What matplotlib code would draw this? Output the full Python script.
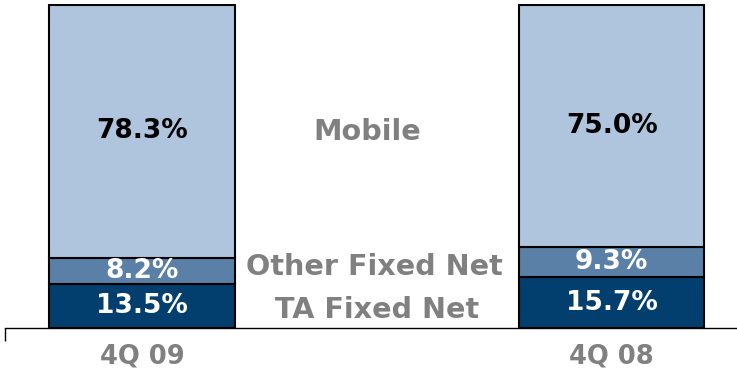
import matplotlib
matplotlib.use("Agg")
import matplotlib.pyplot as plt
import numpy as np

# data (percent share)
periods = ['4Q 09', '4Q 08']
ta_fixed = [13.5, 15.7]
other_fixed = [8.2, 9.3]
mobile = [78.3, 75.0]
segment_names = ['TA Fixed Net', 'Other Fixed Net', 'Mobile']

colors = ['#023f6e', '#5b80a8', '#aec5dd']
label_colors = ['white', 'white', 'black']
gray = '#808080'

fig = plt.figure(figsize=(7.37, 3.69), dpi=100)
ax = fig.add_axes([5/737, 41/369, 732/737, 324/369])

x = np.arange(len(periods))
width = 0.395
bottom = np.zeros(len(periods))
for vals, col, lc in zip([ta_fixed, other_fixed, mobile], colors, label_colors):
    vals = np.array(vals)
    ax.bar(x, vals, width, bottom=bottom, color=col, edgecolor='black',
           linewidth=1.5)
    for xi, b, v in zip(x, bottom, vals):
        ax.text(xi, b + v/2, '%.1f%%' % v, ha='center', va='center',
                color=lc, fontsize=19, fontweight='bold')
    bottom += vals

# segment names between the bars
name_pos = [(0.50, 5.6), (0.495, 18.9), (0.48, 60.7)]
for name, (nx, ny) in zip(segment_names, name_pos):
    ax.text(nx, ny, name, ha='center', va='center', color=gray,
            fontsize=20.6, fontweight='bold')

ax.set_xlim(-0.292, 1.267)
ax.set_ylim(0, 100.3)
ax.set_xticks(x)
ax.set_xticklabels(periods, color=gray, fontsize=18.5, fontweight='bold')
ax.tick_params(axis='x', which='major', length=0, pad=11)
ax.set_xticks([-0.292], minor=True)
ax.tick_params(axis='x', which='minor', length=9, width=1, direction='out')
ax.set_yticks([])
for s in ['left', 'right', 'top']:
    ax.spines[s].set_visible(False)
ax.spines['bottom'].set_linewidth(1)

plt.savefig('out.png', dpi=100)
